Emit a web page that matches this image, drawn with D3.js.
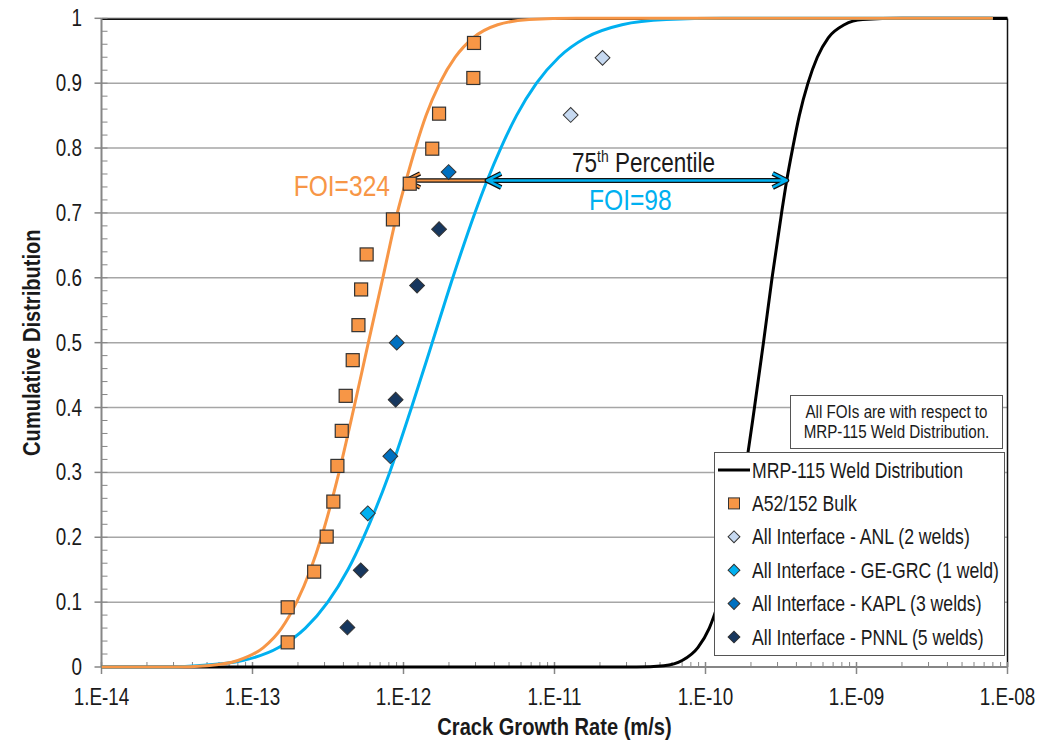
<!DOCTYPE html>
<html>
<head>
<meta charset="utf-8">
<script src="https://cdn.jsdelivr.net/npm/d3@7"></script>
<style>
  body { margin: 0; background: #fff; }
  svg { display: block; }
  text { font-family: 'Liberation Sans', Arial, sans-serif; fill: #1a1a1a; }
</style>
</head>
<body>
<div id="chart"></div>
<script>
// cumulative levels
var cdfLevels = [0, 0, 0.002, 0.01, 0.03, 0.06, 0.1, 0.15, 0.2, 0.3, 0.4, 0.5, 0.6, 0.7, 0.75, 0.8, 0.85, 0.9, 0.94, 0.97, 0.99, 0.998, 1, 1];
var mrpRates = [1e-14, 3.5e-11, 5.3e-11, 7.0e-11, 8.9e-11, 1.06e-10, 1.22e-10, 1.40e-10, 1.55e-10, 1.83e-10, 2.11e-10, 2.42e-10, 2.76e-10, 3.19e-10, 3.45e-10, 3.78e-10, 4.18e-10, 4.77e-10, 5.5e-10, 6.5e-10, 8.3e-10, 1.1e-9, 2.0e-9, 1e-8];
var bulkFitRates = [1e-14, 3.0e-14, 5.0e-14, 8.0e-14, 1.18e-13, 1.56e-13, 1.96e-13, 2.42e-13, 2.86e-13, 3.74e-13, 4.7e-13, 5.85e-13, 7.3e-13, 9.1e-13, 1.04e-12, 1.2e-12, 1.41e-12, 1.74e-12, 2.2e-12, 2.9e-12, 4.2e-12, 6.8e-12, 1.4e-11, 8e-9];
var interfaceFitRates = [1e-14, 2.8e-14, 4.3e-14, 8.6e-14, 1.49e-13, 2.24e-13, 3.15e-13, 4.28e-13, 5.44e-13, 8.1e-13, 1.13e-12, 1.55e-12, 2.12e-12, 2.97e-12, 3.58e-12, 4.41e-12, 5.6e-12, 7.6e-12, 1.07e-11, 1.61e-11, 2.8e-11, 5.5e-11, 1.3e-10, 8e-9];

// A52/152 bulk data (median ranks)
var bulkRates = [1.71e-13, 1.71e-13, 2.56e-13, 3.10e-13, 3.43e-13, 3.65e-13, 3.90e-13, 4.14e-13, 4.61e-13, 5.03e-13, 5.24e-13, 5.70e-13, 8.51e-13, 1.10e-12, 1.55e-12, 1.72e-12, 2.90e-12, 2.93e-12];
var bulkRanks = [0.038, 0.092, 0.147, 0.201, 0.255, 0.310, 0.364, 0.418, 0.473, 0.527, 0.582, 0.636, 0.690, 0.745, 0.799, 0.853, 0.908, 0.962];

// all interface data, lab of each point
var interfaceLabs = ['PNNL', 'PNNL', 'GE-GRC', 'KAPL', 'PNNL', 'KAPL', 'PNNL', 'PNNL', 'KAPL', 'ANL', 'ANL'];
var interfaceRates = [4.25e-13, 5.21e-13, 5.8e-13, 8.18e-13, 8.87e-13, 9.02e-13, 1.23e-12, 1.72e-12, 1.99e-12, 1.28e-11, 2.08e-11];
var interfaceRanks = [0.061, 0.149, 0.237, 0.325, 0.412, 0.500, 0.588, 0.675, 0.763, 0.851, 0.939];

var labNames = ['ANL', 'GE-GRC', 'KAPL', 'PNNL'];
var labColors = ['#c6d9f1', '#00b0f0', '#0070c0', '#17375e'];
var legendLabels = ['MRP-115 Weld Distribution', 'A52/152 Bulk', 'All Interface - ANL (2 welds)',
  'All Interface - GE-GRC (1 weld)', 'All Interface - KAPL (3 welds)', 'All Interface - PNNL (5 welds)'];
var xTickValues = [1e-14, 1e-13, 1e-12, 1e-11, 1e-10, 1e-9, 1e-8];
var xTickLabels = ['1.E-14', '1.E-13', '1.E-12', '1.E-11', '1.E-10', '1.E-09', '1.E-08'];
var foiLabels = ['FOI=324', 'FOI=98'];

var width = 1061,
  height = 742,
  plotLeft = 101.5,
  plotRight = 1007.5,
  plotTop = 18.3,
  plotBottom = 667,
  narrow = 0.82,
  orange = '#f79646',
  cyan = '#00b0f0',
  grey = '#868686';

var x = d3.scaleLog().domain([1e-14, 1e-8]).range([plotLeft, plotRight]);
var y = d3.scaleLinear().domain([0, 1]).range([plotBottom, plotTop]);
var labColor = d3.scaleOrdinal().domain(labNames).range(labColors);

var svg = d3.select('#chart').append('svg')
  .attr('width', width)
  .attr('height', height);

// condensed text (no narrow font installed, so squeeze Liberation Sans)
function label(parent, tx, ty, size, anchor, rot) {
  return parent.append('text')
    .attr('transform', 'translate(' + tx + ',' + ty + ')' + (rot ? ' rotate(' + rot + ')' : '') +
      ' scale(' + narrow + ',1)')
    .style('font-size', size + 'px')
    .style('text-anchor', anchor || 'start');
}

// horizontal grid
svg.append('g').selectAll('line')
  .data(y.ticks(10).slice(1))
  .enter().append('line')
  .attr('x1', plotLeft).attr('x2', plotRight)
  .attr('y1', function(d) { return y(d); })
  .attr('y2', function(d) { return y(d); })
  .style('stroke', '#a6a6a6')
  .style('stroke-width', 1.5);

// plot border
svg.append('path')
  .attr('d', 'M' + plotLeft + ',' + (plotTop + 1) + 'H' + plotRight + 'V' + plotBottom)
  .style('fill', 'none')
  .style('stroke', '#111')
  .style('stroke-width', 1.5);

// axes
var xAxis = svg.append('g').attr('class', 'x-axis');
xAxis.append('line')
  .attr('x1', plotLeft).attr('x2', plotRight).attr('y1', plotBottom).attr('y2', plotBottom)
  .style('stroke', grey).style('stroke-width', 2);
xAxis.selectAll('.minor')
  .data(x.ticks().filter(function(d) { return xTickValues.indexOf(d) < 0; }))
  .enter().append('line')
  .attr('class', 'minor')
  .attr('x1', function(d) { return x(d); })
  .attr('x2', function(d) { return x(d); })
  .attr('y1', plotBottom).attr('y2', plotBottom - 5)
  .style('stroke', grey).style('stroke-width', 1);
xAxis.selectAll('.major')
  .data(xTickValues)
  .enter().append('line')
  .attr('class', 'major')
  .attr('x1', function(d) { return x(d); })
  .attr('x2', function(d) { return x(d); })
  .attr('y1', plotBottom - 5).attr('y2', plotBottom + 7)
  .style('stroke', grey).style('stroke-width', 1.5);
xTickValues.forEach(function(d, i) {
  label(xAxis, x(d), 705, 23, 'middle').text(xTickLabels[i]);
});

var yAxis = svg.append('g').attr('class', 'y-axis');
yAxis.append('line')
  .attr('x1', plotLeft).attr('x2', plotLeft).attr('y1', plotTop).attr('y2', plotBottom)
  .style('stroke', grey).style('stroke-width', 2);
yAxis.selectAll('.minor')
  .data(y.ticks(50))
  .enter().append('line')
  .attr('class', 'minor')
  .attr('x1', plotLeft).attr('x2', plotLeft + 6)
  .attr('y1', function(d) { return y(d); })
  .attr('y2', function(d) { return y(d); })
  .style('stroke', grey).style('stroke-width', 1);
yAxis.selectAll('.major')
  .data(y.ticks(10))
  .enter().append('line')
  .attr('class', 'major')
  .attr('x1', plotLeft - 7).attr('x2', plotLeft)
  .attr('y1', function(d) { return y(d); })
  .attr('y2', function(d) { return y(d); })
  .style('stroke', grey).style('stroke-width', 1.5);
y.ticks(10).forEach(function(d) {
  label(yAxis, 82, y(d) + 8, 23, 'end').text(d3.format('')(d));
});

label(svg, 40, (plotTop + plotBottom) / 2, 24.5, 'middle', -90)
  .style('font-weight', 'bold')
  .text('Cumulative Distribution');
label(svg, (plotLeft + plotRight) / 2, 735, 24.5, 'middle')
  .style('font-weight', 'bold')
  .text('Crack Growth Rate (m/s)');

// fitted curves
var line = d3.line()
  .x(function(d) { return x(d[0]); })
  .y(function(d) { return y(d[1]); })
  .curve(d3.curveMonotoneX);

function pairs(rates) {
  return rates.map(function(r, i) { return [r, cdfLevels[i]]; });
}

[[mrpRates, '#000'], [interfaceFitRates, cyan], [bulkFitRates, orange]].forEach(function(c) {
  svg.append('path')
    .datum(pairs(c[0]))
    .attr('d', line)
    .style('fill', 'none')
    .style('stroke', c[1])
    .style('stroke-width', 3);
});

// 75th percentile arrows
var p = cdfLevels.indexOf(0.75),
  py = y(0.75),
  xBulk = x(bulkFitRates[p]),
  xInt = x(interfaceFitRates[p]),
  xMrp = x(mrpRates[p]);

function chevron(tx, dir) {
  return 'M' + (tx + dir * 14) + ',' + (py - 7) + 'L' + tx + ',' + py + 'L' + (tx + dir * 14) + ',' + (py + 7);
}

function arrow(x1, x2, color, heads, w) {
  var g = svg.append('g');
  var d = 'M' + x1 + ',' + py + 'H' + x2;
  heads.forEach(function(h) { d += chevron(h[0], h[1]); });
  g.append('path').attr('d', d)
    .style('fill', 'none').style('stroke', '#111').style('stroke-width', w + 2.5)
    .style('stroke-linejoin', 'round');
  g.append('path').attr('d', d)
    .style('fill', 'none').style('stroke', color).style('stroke-width', w)
    .style('stroke-linejoin', 'round');
}

arrow(xInt, xBulk, orange, [[xBulk, 1]], 2);
arrow(xInt, xMrp, cyan, [[xInt, 1], [xMrp, -1]], 2.5);

var pct = label(svg, 572, 172, 27.5);
pct.append('tspan').text('75');
pct.append('tspan').attr('dy', -10).style('font-size', '17px').text('th');
pct.append('tspan').attr('dy', 10).text(' Percentile');

label(svg, 390, 196, 30, 'end')
  .style('fill', orange)
  .text(foiLabels[0]);
label(svg, 589, 210, 30)
  .style('fill', cyan)
  .text(foiLabels[1]);

// data markers
var diamond = d3.symbol().type(d3.symbolSquare).size(110);

svg.append('g').selectAll('rect')
  .data(bulkRates)
  .enter().append('rect')
  .attr('x', function(d) { return x(d) - 6.5; })
  .attr('y', function(d, i) { return y(bulkRanks[i]) - 6.5; })
  .attr('width', 13).attr('height', 13)
  .style('fill', orange)
  .style('stroke', '#333')
  .style('stroke-width', 1.2);

svg.append('g').selectAll('path')
  .data(interfaceRates)
  .enter().append('path')
  .attr('d', diamond)
  .attr('transform', function(d, i) {
    return 'translate(' + x(d) + ',' + y(interfaceRanks[i]) + ') rotate(45)';
  })
  .style('fill', function(d, i) { return labColor(interfaceLabs[i]); })
  .style('stroke', '#333')
  .style('stroke-width', 1);

// note box
var note = svg.append('g');
note.append('rect')
  .attr('x', 790.5).attr('y', 395.5).attr('width', 212).attr('height', 53)
  .style('fill', '#fff').style('stroke', '#555').style('stroke-width', 1);
label(note, 896.5, 418, 18.5, 'middle').text('All FOIs are with respect to');
label(note, 896.5, 438, 18.5, 'middle').text('MRP-115 Weld Distribution.');

// legend
var legend = svg.append('g');
legend.append('rect')
  .attr('x', 714.5).attr('y', 452.5).attr('width', 290).attr('height', 203)
  .style('fill', '#fff').style('stroke', '#555').style('stroke-width', 1);

legendLabels.forEach(function(d, i) {
  var r = legend.append('g')
    .attr('transform', 'translate(0,' + (470 + i * 33.4) + ')');
  label(r, 752, 7.5, 21.5).text(d);
  if (i === 0) {
    r.append('line').attr('x1', 718).attr('x2', 750)
      .style('stroke', '#000').style('stroke-width', 3);
  } else if (i === 1) {
    r.append('rect').attr('x', 728.5).attr('y', -5.5).attr('width', 11).attr('height', 11)
      .style('fill', orange).style('stroke', '#333').style('stroke-width', 1);
  } else {
    r.append('path')
      .attr('d', d3.symbol().type(d3.symbolSquare).size(70))
      .attr('transform', 'translate(734,0) rotate(45)')
      .style('fill', labColor(labNames[i - 2]))
      .style('stroke', '#333').style('stroke-width', 1);
  }
});
</script>
</body>
</html>
